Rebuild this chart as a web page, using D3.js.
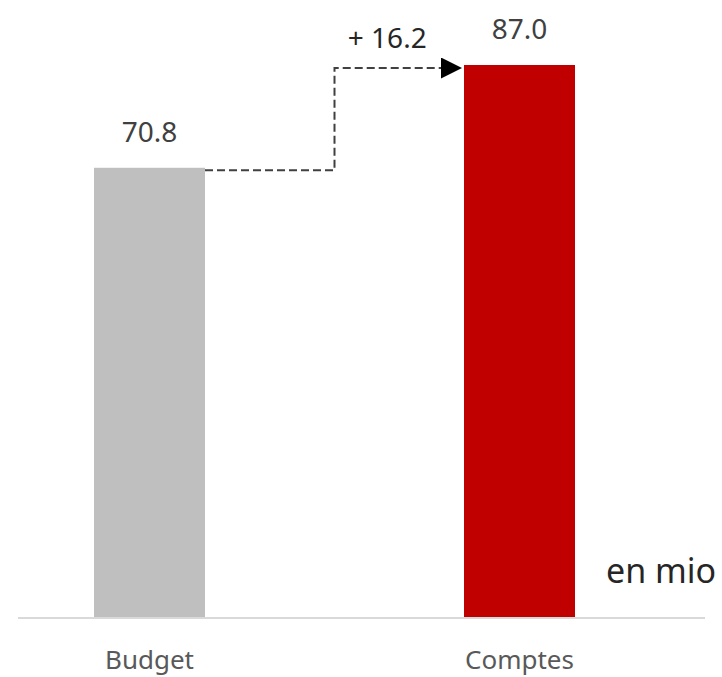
<!DOCTYPE html>
<html>
<head>
<meta charset="utf-8">
<script src="https://cdn.jsdelivr.net/npm/d3@7"></script>
<style>
  body { margin: 0; background: #fff; }
  svg text { font-family: "Noto Sans", "Open Sans", sans-serif; }
</style>
</head>
<body>
<div id="chart"></div>
<script>
// data
const categories = ["Budget", "Comptes"];
const values = [70.8, 87.0];
const barColors = ["#bfbfbf", "#c00000"];
const deltaLabel = "+ 16.2";
const unitLabel = "en mio";

const width = 722, height = 677;
const baseline = 617;

let svg = d3.select("#chart").append("svg")
    .attr("width", width)
    .attr("height", height);

let x = d3.scaleBand()
    .domain(categories)
    .range([94, 575])
    .paddingInner(0.7);

let y = d3.scaleLinear()
    .domain([0, d3.max(values)])
    .range([baseline, 65]);

// arrow head
svg.append("defs").append("marker")
    .attr("id", "arrow")
    .attr("viewBox", "0 0 10 10")
    .attr("refX", 10)
    .attr("refY", 5)
    .attr("markerWidth", 22)
    .attr("markerHeight", 21)
    .attr("markerUnits", "userSpaceOnUse")
    .attr("orient", "auto")
    .append("path")
    .attr("d", "M0,0 L10,5 L0,10 Z")
    .attr("fill", "#000");

// bars
svg.selectAll("rect.bar")
    .data(values)
    .enter()
    .append("rect")
    .attr("class", "bar")
    .attr("x", (d, i) => x(categories[i]))
    .attr("y", d => y(d))
    .attr("width", x.bandwidth())
    .attr("height", d => baseline - y(d))
    .attr("fill", (d, i) => barColors[i]);

// baseline
svg.append("line")
    .attr("x1", 18)
    .attr("x2", 705)
    .attr("y1", baseline + 1)
    .attr("y2", baseline + 1)
    .attr("stroke", "#d9d9d9")
    .attr("stroke-width", 2);

// value labels
svg.selectAll("text.value")
    .data(values)
    .enter()
    .append("text")
    .attr("class", "value")
    .attr("x", (d, i) => x(categories[i]) + x.bandwidth() / 2)
    .attr("y", d => y(d) - 26)
    .attr("text-anchor", "middle")
    .style("font-size", "28px")
    .style("fill", "#404040")
    .text(d => d.toFixed(1));

// category labels
svg.selectAll("text.cat")
    .data(categories)
    .enter()
    .append("text")
    .attr("class", "cat")
    .attr("x", d => x(d) + x.bandwidth() / 2)
    .attr("y", baseline + 52)
    .attr("text-anchor", "middle")
    .style("font-size", "26px")
    .style("fill", "#595959")
    .text(d => d);

// dashed connector from budget to comptes
let x0 = x(categories[0]) + x.bandwidth();
let x1 = x(categories[1]);
let xm = (x0 + x1) / 2;
let y0 = y(values[0]) + 2.5;
let y1 = y(values[1]) + 3;

svg.append("path")
    .attr("d", d3.line()([[x0, y0], [xm, y0], [xm, y1], [x1 - 2, y1]]))
    .attr("fill", "none")
    .attr("stroke", "#404040")
    .attr("stroke-width", 2)
    .attr("stroke-dasharray", "8,4")
    .attr("marker-end", "url(#arrow)");

svg.append("text")
    .attr("x", (xm + x1) / 2 - 12)
    .attr("y", y1 - 20)
    .attr("text-anchor", "middle")
    .style("font-size", "28px")
    .style("fill", "#262626")
    .text(deltaLabel);

// unit
svg.append("text")
    .attr("x", 606)
    .attr("y", 583)
    .style("font-size", "34px")
    .style("fill", "#262626")
    .text(unitLabel);
</script>
</body>
</html>
